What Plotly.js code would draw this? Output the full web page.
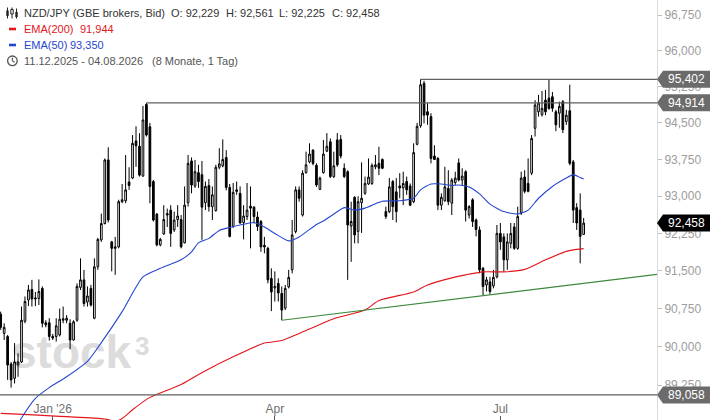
<!DOCTYPE html>
<html><head><meta charset="utf-8">
<script src="https://cdn.plot.ly/plotly-3.0.1.min.js"></script>
<style>html,body{margin:0;padding:0;background:#fff}#chart{width:710px;height:420px}</style>
</head><body><div id="chart"></div>
<script>
// ---------- data ----------
const firstDay = '2025-12-11';
const lastDay  = '2026-08-04';

const opens = [90.64,90.26,90.20,89.66,89.38,89.64,89.70,90.50,90.92,91.13,90.94,90.95,91.15,90.47,90.47,90.20,90.20,90.23,90.52,90.52,
90.46,90.13,90.52,91.17,91.32,90.88,91.15,90.56,91.58,92.12,92.45,93.74,92.08,91.95,91.98,92.89,92.91,93.29,93.37,94.13,
94.02,93.41,94.88,94.42,93.30,92.64,92.02,92.24,92.65,92.72,92.32,92.53,92.53,92.06,92.87,93.72,93.21,93.48,93.44,92.87,
93.22,92.79,92.71,93.59,93.62,93.79,93.18,92.39,93.13,93.06,92.47,92.59,92.80,92.78,92.58,92.49,92.01,91.95,91.35,91.16,
91.25,91.05,90.76,91.18,91.52,92.29,93.13,92.62,93.48,93.70,93.94,93.63,93.14,93.48,93.92,94.11,93.40,94.15,94.16,93.57,
93.50,92.40,92.98,92.29,92.87,93.06,93.25,93.26,93.60,93.67,93.75,92.69,92.69,93.30,93.09,93.21,93.17,93.30,93.21,92.89,
94.06,94.44,95.32,94.73,94.63,93.82,93.77,92.82,92.91,93.16,92.86,93.28,93.68,93.33,93.50,92.62,92.93,92.52,92.32,91.55,
91.22,91.28,91.20,91.38,92.25,92.18,91.72,92.05,92.38,91.95,92.66,93.39,93.26,93.47,94.39,94.73,94.67,94.97,95.01,95.04,
94.73,94.70,94.94,94.53,94.75,93.70,92.77,92.72,92.229];
const highs = [90.69,90.46,90.23,89.70,90.07,89.87,90.79,90.99,91.22,91.32,91.08,91.33,91.19,90.52,90.56,90.25,90.56,90.75,90.79,90.62,
90.54,90.52,91.25,91.75,91.52,91.19,91.22,91.75,92.16,92.65,93.77,94.00,92.10,92.18,92.93,93.25,93.84,93.59,94.25,94.43,
94.29,94.85,94.914,94.50,93.33,92.66,92.16,92.82,92.75,92.82,92.69,92.82,92.62,93.20,93.84,93.79,93.74,93.64,93.72,93.30,
93.35,93.20,93.64,93.98,94.16,93.94,93.25,93.27,93.30,93.20,92.82,93.27,93.20,92.80,92.69,92.52,92.18,91.98,91.55,91.49,
91.35,91.19,91.22,91.52,92.52,93.20,93.20,93.53,93.91,94.08,93.96,93.67,93.40,94.15,94.29,94.18,93.91,94.29,94.25,93.67,
93.53,92.89,93.00,93.00,93.69,93.40,93.77,93.67,93.84,94.01,93.77,92.79,93.37,93.33,93.37,93.47,93.50,93.40,93.26,94.08,
94.50,95.402,95.37,94.91,94.70,94.04,93.80,93.06,93.60,93.53,93.37,93.50,93.77,93.57,93.53,92.82,92.96,92.55,92.39,91.58,
91.38,91.38,91.52,92.42,92.46,92.25,92.25,92.46,92.46,92.79,93.50,93.53,93.77,94.25,94.97,95.08,95.16,95.18,95.39,95.14,
94.77,94.94,94.97,94.77,95.29,93.74,92.86,93.06,92.561];
const lows = [90.33,90.13,89.35,89.20,89.28,89.41,89.68,90.46,90.80,90.79,90.80,90.82,90.38,90.38,90.12,90.13,90.10,90.20,90.46,90.46,
89.95,90.12,90.49,91.12,90.79,90.79,90.79,90.54,91.52,92.08,92.43,92.47,91.49,91.42,91.95,92.86,92.86,93.13,93.35,93.60,
93.40,93.40,94.22,92.86,92.49,91.99,91.99,92.22,92.38,91.98,92.28,92.38,91.95,92.05,92.79,93.06,93.17,93.17,92.12,92.72,
92.69,92.52,92.69,93.55,93.59,93.12,92.17,92.36,93.03,92.45,92.13,92.52,91.95,92.45,92.30,91.88,91.85,91.25,90.70,90.89,
90.89,90.52,90.72,91.15,91.45,92.25,92.89,92.59,93.46,93.67,93.63,93.19,93.13,93.46,93.90,93.37,93.37,93.60,93.77,93.37,
91.32,91.68,92.05,92.05,92.26,93.03,93.23,93.23,93.55,93.43,93.55,92.54,92.66,92.52,92.47,92.96,92.82,93.03,92.80,92.86,
94.04,94.40,94.49,94.46,93.67,93.74,92.72,92.72,92.89,92.82,92.62,93.23,93.30,93.23,92.49,92.55,92.38,92.19,91.45,91.02,
91.09,91.04,91.15,91.35,91.92,91.49,91.52,91.95,91.92,91.92,92.62,93.06,93.08,93.43,94.22,94.63,94.63,94.66,94.77,94.73,
94.33,94.40,94.29,94.46,93.63,92.46,92.32,91.65,92.225];
const closes = [90.38,90.38,89.64,89.35,89.70,89.70,90.52,90.89,91.12,90.94,90.96,91.09,90.46,90.43,90.20,90.17,90.41,90.54,90.55,90.56,
90.13,90.49,91.19,91.32,90.85,91.00,90.82,91.58,92.13,92.45,93.74,92.52,91.95,91.98,92.89,92.93,93.13,93.22,94.08,94.03,
93.43,94.56,94.25,93.20,92.52,92.02,92.13,92.53,92.62,92.25,92.52,92.60,91.98,92.82,93.67,93.23,93.50,93.30,92.78,93.20,
92.79,93.03,93.59,93.66,93.75,93.18,92.19,93.08,93.10,92.46,92.60,92.72,92.76,92.59,92.39,91.98,91.98,91.32,91.08,91.19,
91.06,90.72,91.15,91.37,92.22,93.13,92.96,93.47,93.64,93.86,93.67,93.23,93.37,93.86,94.02,93.40,93.62,93.64,93.82,93.40,
92.42,92.49,92.22,92.89,92.96,93.26,93.39,93.63,93.64,93.57,93.57,92.59,93.19,92.79,92.69,93.17,93.26,93.13,92.82,93.89,
94.43,95.29,94.66,94.66,93.77,93.75,92.82,92.98,93.19,92.89,93.33,93.37,93.33,93.41,92.72,92.79,92.49,92.33,91.52,91.19,
91.32,91.09,91.37,92.25,92.08,91.72,92.08,92.25,91.95,92.59,93.37,93.10,93.10,94.18,94.87,94.91,94.80,94.73,94.80,94.80,
94.46,94.84,94.36,94.66,93.67,92.72,92.46,92.19,92.458];

const ema50Dates = ['2025-12-16','2025-12-19','2025-12-25','2025-12-31','2026-01-07','2026-01-15','2026-01-21','2026-01-29','2026-02-06','2026-02-13',
'2026-02-23','2026-02-26','2026-03-02','2026-03-05','2026-03-10','2026-03-13','2026-03-18','2026-03-24','2026-03-27','2026-04-01',
'2026-04-07','2026-04-10','2026-04-17','2026-04-21','2026-04-24','2026-04-29','2026-05-04','2026-05-07','2026-05-12','2026-05-14',
'2026-05-21','2026-05-27','2026-05-29','2026-06-03','2026-06-08','2026-06-11','2026-06-15','2026-06-18','2026-06-23','2026-06-26',
'2026-07-02','2026-07-08','2026-07-13','2026-07-16','2026-07-22','2026-07-28','2026-07-30','2026-08-03','2026-08-04'];
const ema50 = [88.25,88.61,88.99,89.20,89.41,89.71,90.08,90.69,91.38,91.55,
91.72,91.88,92.06,92.15,92.31,92.37,92.42,92.47,92.38,92.25,
92.10,92.18,92.43,92.50,92.64,92.77,92.72,92.76,92.85,92.90,
92.91,92.96,93.13,93.25,93.25,93.22,93.23,93.19,93.05,92.84,
92.69,92.64,92.72,92.96,93.20,93.37,93.44,93.38,93.35];

const ema200Dates = ['2025-12-11','2026-01-22','2026-01-27','2026-01-29','2026-02-03','2026-02-10','2026-02-23','2026-03-04','2026-03-16','2026-03-27',
'2026-04-03','2026-04-10','2026-04-24','2026-05-07','2026-05-13','2026-05-27','2026-06-02','2026-06-11','2026-06-17','2026-06-24',
'2026-07-02','2026-07-10','2026-07-20','2026-07-28','2026-07-30','2026-08-04'];
const ema200 = [88.70,88.59,88.55,88.60,88.77,89.01,89.26,89.53,89.80,90.07,
90.12,90.26,90.55,90.72,90.91,91.08,91.22,91.36,91.42,91.48,
91.48,91.53,91.72,91.89,91.92,91.944];

const trendDates = ['2026-04-03','2026-09-02 03:20'];
const trendValues = [90.52, 91.43];

const levelValues = [95.402, 94.914, 89.058];
const levelStarts = ['2026-05-29', '2026-02-09', '2025-12-10 19:12'];

const yTickValues = [89.25,90.0,90.75,91.5,92.25,93.0,93.75,94.5,95.25,96.0,96.75];
const xTickDates = ['2026-01-01','2026-04-01','2026-07-01'];
const xTickLabels = ["Jan '26", 'Apr', 'Jul'];

const headerTitle = 'NZD/JPY (GBE brokers, Bid)';
const ema200Label = 'EMA(200)', ema50Label = 'EMA(50)';
const periodText = '11.12.2025 - 04.08.2026', periodLen = '(8 Monate, 1 Tag)';
const watermarkWord = 'stock', watermarkMark = '3';

// ---------- helpers ----------
function tradingDays(a, b) {
  const out = []; let d = new Date(a + 'T00:00:00Z'); const e = new Date(b + 'T00:00:00Z');
  while (d <= e) { const w = d.getUTCDay(); if (w !== 0 && w !== 6) out.push(d.toISOString().slice(0, 10)); d.setUTCDate(d.getUTCDate() + 1); }
  return out;
}
const dates = tradingDays(firstDay, lastDay);
const xRange = ['2025-12-10 19:12', '2026-09-02 03:20'];
const yMin = 88.572, yMax = 97.067;
const L0 = Math.log10(yMin), L1 = Math.log10(yMax);
const PW = 657, PH = 420;
const fx = p => p / PW;            // pixel x -> paper
const fy = p => 1 - p / PH;        // pixel y -> paper
const vy = v => (Math.log10(v) - L0) / (L1 - L0); // price -> paper
const fmt = v => v.toFixed(3).replace('.', ',');

const n = closes.length;
const FONT = 'Liberation Sans, Arial, sans-serif';

const traces = [
  { type: 'candlestick', x: dates, open: opens, high: highs, low: lows, close: closes,
    increasing: { line: { color: '#000', width: 1 }, fillcolor: '#ffffff' },
    decreasing: { line: { color: '#000', width: 1 }, fillcolor: '#000000' },
    whiskerwidth: 0, hoverinfo: 'skip', showlegend: false },
  { type: 'scatter', mode: 'lines', x: ema200Dates, y: ema200, line: { color: '#e3161c', width: 1.1, shape: 'spline', smoothing: 0.6 }, hoverinfo: 'skip' },
  { type: 'scatter', mode: 'lines', x: ema50Dates, y: ema50, line: { color: '#2546d0', width: 1.1, shape: 'spline', smoothing: 0.6 }, hoverinfo: 'skip' },
  { type: 'scatter', mode: 'lines', x: trendDates, y: trendValues, line: { color: '#3d8a3d', width: 1.1 }, hoverinfo: 'skip' }
];
levelValues.forEach((v, i) => traces.push({ type: 'scatter', mode: 'lines', x: [levelStarts[i], xRange[1]], y: [v, v],
  line: { color: '#5f5f5f', width: 1.1 }, hoverinfo: 'skip' }));

const shapes = [], annotations = [];
// right price tags
const tagVals = [levelValues[0], levelValues[1], closes[n - 1], levelValues[2]];
const tagCols = ['#6b6b6b', '#6b6b6b', '#000000', '#6b6b6b'];
tagVals.forEach((v, i) => {
  const cy = vy(v), h = 8.5 / PH, x1 = fx(663), x2 = fx(712);
  shapes.push({ type: 'path', xref: 'paper', yref: 'paper', layer: 'above',
    path: `M 1,${cy} L ${x1},${cy + h} L ${x2},${cy + h} L ${x2},${cy - h} L ${x1},${cy - h} Z`,
    fillcolor: tagCols[i], line: { width: 0 } });
  annotations.push({ xref: 'paper', yref: 'paper', x: fx(686), y: cy, xanchor: 'center', yanchor: 'middle',
    text: fmt(v), showarrow: false, font: { family: FONT, size: 12, color: '#ffffff' } });
});

// header legend
const hdr = (x, y, t, c) => annotations.push({ xref: 'paper', yref: 'paper', x: fx(x), y: fy(y), xanchor: 'left', yanchor: 'middle',
  text: t, showarrow: false, font: { family: FONT, size: 11, color: c } });
hdr(22, 13, headerTitle, '#333');
hdr(169, 13, 'O: ' + fmt(opens[n - 1]), '#333');
hdr(224, 13, 'H: ' + fmt(highs[n - 1]), '#333');
hdr(277, 13, 'L: ' + fmt(lows[n - 1]), '#333');
hdr(330, 13, 'C: ' + fmt(closes[n - 1]), '#333');
hdr(22, 29, ema200Label, '#e3161c');
hdr(78, 29, fmt(ema200[ema200.length - 1]), '#e3161c');
hdr(22, 45, ema50Label, '#2546d0');
hdr(68, 45, fmt(ema50[ema50.length - 1]), '#2546d0');
hdr(22, 61, periodText, '#555');
hdr(150, 61, periodLen, '#555');

// icons
const pr = (x0, y0, x1, y1, fill, line) => shapes.push({ type: 'rect', xref: 'paper', yref: 'paper', x0: fx(x0), x1: fx(x1), y0: fy(y0), y1: fy(y1),
  fillcolor: fill, line: line ? { color: line, width: 1 } : { width: 0 } });
const pl = (x0, y0, x1, y1, c, w) => shapes.push({ type: 'line', xref: 'paper', yref: 'paper', x0: fx(x0), x1: fx(x1), y0: fy(y0), y1: fy(y1),
  line: { color: c, width: w } });
pl(7.5, 7.5, 7.5, 18.5, '#222', 1); pr(6.3, 10.5, 8.7, 16, '#222');
pl(12, 7.5, 12, 18.5, '#222', 1); pr(10.8, 9.5, 13.2, 14, '#fff', '#222');
pl(16.5, 8.5, 16.5, 18.5, '#222', 1); pr(15.3, 12, 17.7, 17, '#222');
pr(9, 27.7, 16, 30.3, '#e3161c');
pr(9, 43.7, 16, 46.3, '#2546d0');
shapes.push({ type: 'circle', xref: 'paper', yref: 'paper', x0: fx(7.6), x1: fx(17.2), y0: fy(56), y1: fy(65.6), line: { color: '#555', width: 1.3 } });
pl(12.4, 60.8, 12.4, 57.8, '#555', 1.2); pl(12.4, 60.8, 14.6, 62.2, '#555', 1.2);

// watermark (below the candles)
shapes.push({ type: 'rect', xref: 'paper', yref: 'paper', layer: 'below', x0: fx(8), x1: fx(200), y0: fy(374), y1: fy(322),
  line: { width: 0 }, fillcolor: 'rgba(0,0,0,0)',
  label: { text: '<b>' + watermarkWord + '</b>', textposition: 'middle left', padding: 0, font: { family: FONT, size: 46, color: '#dcdcdc', weight: 'bold' } } });
shapes.push({ type: 'rect', xref: 'paper', yref: 'paper', layer: 'below', x0: fx(132), x1: fx(160), y0: fy(356), y1: fy(332),
  line: { width: 0 }, fillcolor: 'rgba(0,0,0,0)',
  label: { text: '<b>' + watermarkMark + '</b>', textposition: 'middle left', padding: 0, font: { family: FONT, size: 26, color: '#dcdcdc', weight: 'bold' } } });

const layout = {
  width: 710, height: 420, margin: { l: 0, r: 53, t: 0, b: 0, pad: 0 },
  paper_bgcolor: '#fff', plot_bgcolor: '#fff', separators: ',.',
  font: { family: FONT, size: 12, color: '#666' },
  showlegend: false, hovermode: false, dragmode: false,
  xaxis: { type: 'date', range: xRange, rangebreaks: [{ bounds: ['sat', 'mon'] }], rangeslider: { visible: false },
    tickmode: 'array', tickvals: xTickDates, ticktext: xTickLabels, ticks: 'inside', ticklen: 4, tickcolor: '#555',
    ticklabelposition: 'inside', tickfont: { family: FONT, size: 12, color: '#707070' },
    showgrid: false, zeroline: false, showline: false, fixedrange: true },
  yaxis: { type: 'log', side: 'right', range: [L0, L1], tickmode: 'array', tickvals: yTickValues, tickformat: '.3f',
    ticks: 'outside', ticklen: 4, tickcolor: '#bdbdbd', tickfont: { family: FONT, size: 12, color: '#9d9d9d' },
    showline: true, linecolor: '#dcdcdc', linewidth: 1, showgrid: false, zeroline: false, fixedrange: true },
  shapes: shapes, annotations: annotations
};
Plotly.newPlot('chart', traces, layout, { displayModeBar: false, staticPlot: true });
</script></body></html>
